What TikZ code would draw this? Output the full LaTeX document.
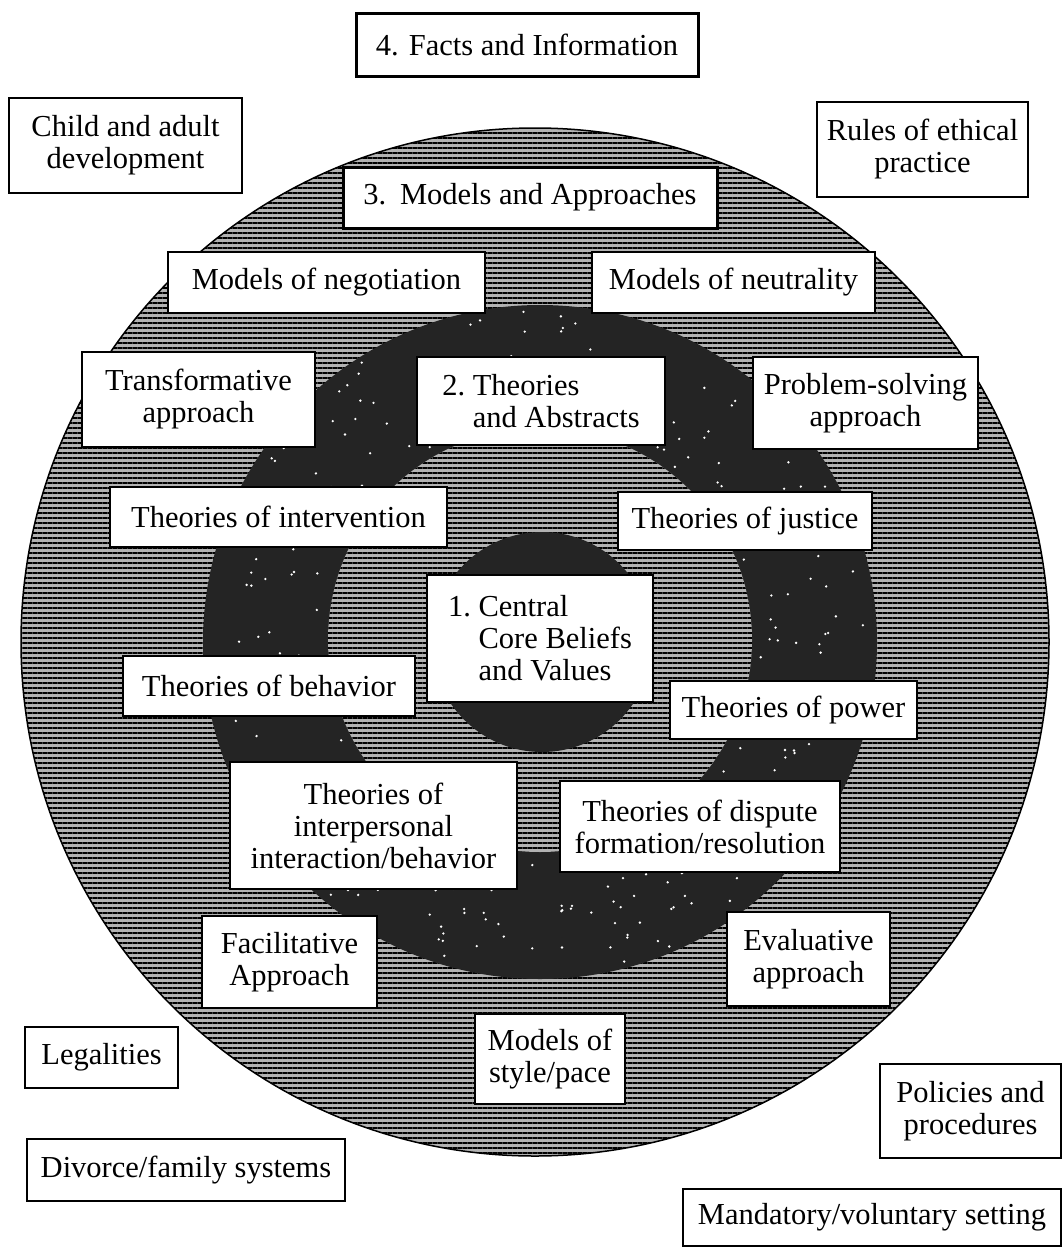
\documentclass[tikz,border=0pt]{standalone}
\usepackage{fontspec}
\setmainfont{Liberation Serif}
\usetikzlibrary{patterns.meta,calc}
\begin{document}
\begin{tikzpicture}[x=1pt,y=-1pt,
  box/.style={draw=black, fill=white, line width=1.6pt, inner sep=0pt, align=center,
    font=\fontsize{30.5}{32}\selectfont},
  thickbox/.style={box, line width=3pt},
  texture/.style={pattern={Lines[angle=0,distance=5pt,line width=1.6pt]}, pattern color=black},
  lightring/.style={fill=black!30},
  darkring/.style={fill=black!86},
  speck/.style={fill=white}]
\useasboundingbox (0,0) rectangle (1063,1248);
% concentric layers
\coordinate (c4) at (535,642);
\coordinate (c3) at (540,642);
\coordinate (c2) at (540,640);
\coordinate (c1) at (542,642);
\fill[lightring] (c4) circle[radius=514];
\fill[texture] (c4) circle[radius=514];
\draw[line width=1.5pt] (c4) circle[radius=514];
\fill[darkring] (c3) circle[radius=337];
\fill[lightring] (c2) circle[radius=212];
\fill[texture] (c2) circle[radius=212];
\fill[darkring] (c1) circle[radius=110];
% white speckles in the dark ring
\pgfmathsetseed{4242}
\foreach \k in {1,...,260}{
  \pgfmathsetmacro{\ang}{rnd*360}
  \pgfmathsetmacro{\rad}{218+rnd*114}
  \fill[speck] ($(c3)+(\ang:\rad)$) circle[radius=1.3];
}
% boxes
\node[thickbox, minimum width=342, minimum height=63] (facts) at (527,44.5) {4. Facts and Information};
\node[box, minimum width=233, minimum height=95] (child) at (125.5,145.5) {Child and adult\\development};
\node[box, minimum width=211, minimum height=95] (rules) at (922.5,149.5) {Rules of ethical\\practice};
\node[thickbox, minimum width=374, minimum height=61] (models) at (530,197.5) {3.\hspace{0.45em}Models and Approaches};
\node[box, minimum width=317, minimum height=61] (negot) at (326.5,282.5) {Models of negotiation};
\node[box, minimum width=283, minimum height=61] (neutral) at (733.5,282.5) {Models of neutrality};
\node[box, minimum width=233, minimum height=95] (transf) at (198.5,399.5) {Transformative\\approach};
\node[box, minimum width=248, minimum height=88, align=left] (theor) at (541,401) {2.\ Theories\\\hphantom{2.\ }and Abstracts};
\node[box, minimum width=225, minimum height=92] (problem) at (865.5,403) {Problem-solving\\approach};
\node[box, minimum width=337, minimum height=60] (interv) at (278.5,517) {Theories of intervention};
\node[box, minimum width=254, minimum height=58] (justice) at (745,521) {Theories of justice};
\node[thickbox, line width=2.4pt, minimum width=226, minimum height=127, align=left] (core) at (540,638.5) {1.~Central\\\hphantom{1.~}Core Beliefs\\\hphantom{1.~}and Values};
\node[box, minimum width=292, minimum height=60] (behav) at (269,686) {Theories of behavior};
\node[box, minimum width=247, minimum height=58] (power) at (793.5,710) {Theories of power};
\node[box, minimum width=287, minimum height=127] (interp) at (373.5,825.5) {Theories of\\interpersonal\\interaction/behavior};
\node[box, minimum width=280, minimum height=91] (dispute) at (700,826.5) {Theories of dispute\\formation/resolution};
\node[box, minimum width=175, minimum height=92] (facil) at (289.5,962) {Facilitative\\Approach};
\node[box, minimum width=163, minimum height=94] (evalu) at (808.5,959) {Evaluative\\approach};
\node[box, minimum width=150, minimum height=90] (style) at (550,1059) {Models of\\style/pace};
\node[box, minimum width=153, minimum height=61] (legal) at (101.5,1057.5) {Legalities};
\node[box, minimum width=318, minimum height=62] (divorce) at (186,1170) {Divorce/family systems};
\node[box, minimum width=181, minimum height=94] (policy) at (970.5,1111) {Policies and\\procedures};
\node[box, minimum width=378, minimum height=57] (mandat) at (872,1217.5) {Mandatory/voluntary setting};
\end{tikzpicture}
\end{document}
